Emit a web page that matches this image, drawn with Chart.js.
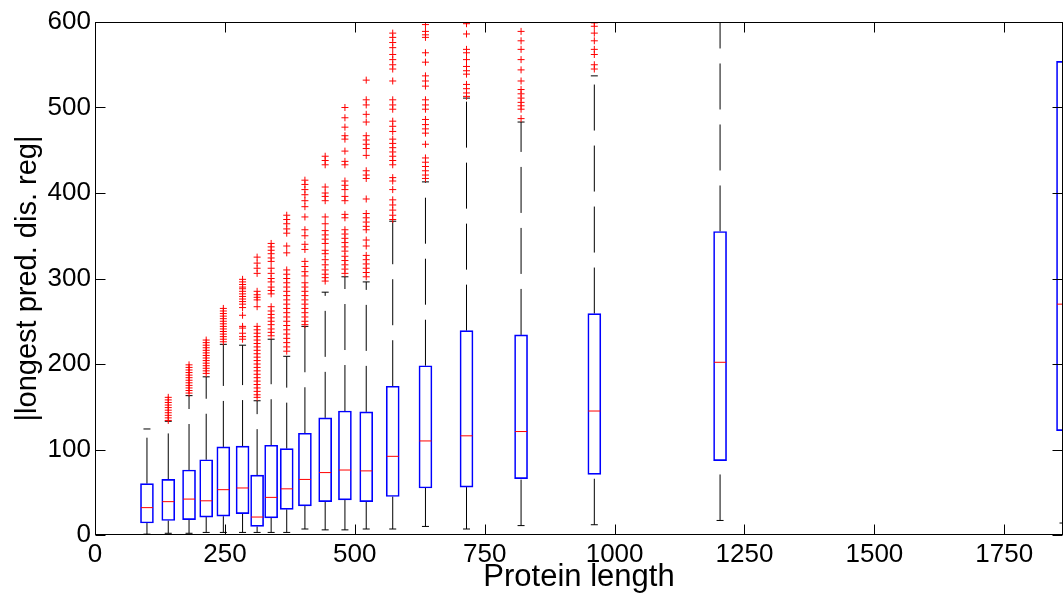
<!DOCTYPE html>
<html>
<head>
<meta charset="utf-8">
<script src="https://cdn.jsdelivr.net/npm/chart.js@4.4.1/dist/chart.umd.min.js"></script>
<style>
  html, body { margin: 0; padding: 0; background: #fff; overflow: hidden; }
  canvas { display: block; }
</style>
</head>
<body>
<canvas id="boxChart" width="1064" height="603"></canvas>
<script>
// group positions on the x axis (protein length)
const positions = [100, 141, 181, 214, 247, 284, 312, 339, 369, 404, 443, 481, 522, 573, 636, 715, 820, 961, 1203, 1863];
const lowWhisker = [1, 2, 2, 3, 3, 3, 3, 3, 3, 7, 6, 6, 7, 7, 10, 7, 11, 12, 17, 14];
const q1 = [14, 17, 18, 21, 22, 25, 10, 20, 30, 34, 39, 41, 39, 45, 55, 56, 66, 71, 87, 122];
const medians = [32, 39, 42, 40, 53, 55, 21, 44, 54, 65, 73, 76, 75, 92, 110, 116, 121, 145, 202, 270];
const q3 = [60, 65, 76, 88, 103, 104, 70, 105, 101, 119, 137, 145, 144, 174, 198, 239, 234, 259, 355, 554];
const highWhisker = [124, 133, 163, 185, 223, 222, 157, 229, 209, 244, 284, 302, 296, 367, 413, 511, 483, 537, 650, 880];

// outliers (red +) per group
const outliers = [
  [],
  [161, 158, 155, 152, 149, 146, 143, 140, 137, 134],
  [199, 196, 193, 190, 187, 184, 181, 178, 175, 172, 169, 166],
  [228, 225, 222, 219, 216, 213, 210, 207, 204, 201, 198, 195, 192, 189],
  [265, 262, 259, 256, 253, 250, 247, 244, 241, 238, 235, 232, 229, 226],
  [299, 296, 293, 290, 288, 285, 282, 279, 276, 273, 270, 266, 257, 244, 242, 236, 232, 229],
  [325, 318, 312, 306, 285, 281, 278, 275, 267, 244, 240, 236, 232, 228, 224, 220, 216, 212, 208, 204, 200, 196, 192, 188, 184, 180, 176, 172, 168, 164, 161],
  [341, 337, 333, 329, 324, 320, 312, 306, 300, 296, 290, 286, 282, 267, 262, 258, 254, 250, 246, 241, 237, 233],
  [374, 369, 364, 358, 353, 338, 330, 310, 305, 300, 295, 290, 285, 280, 275, 270, 265, 260, 255, 250, 245, 240, 235, 230, 225, 220, 215],
  [415, 410, 404, 398, 391, 384, 372, 357, 350, 340, 334, 320, 314, 308, 303, 295, 290, 285, 280, 275, 270, 265, 260, 255, 250, 246],
  [443, 438, 433, 407, 400, 396, 391, 372, 364, 356, 351, 346, 341, 333, 329, 322, 316, 310, 305, 301, 297],
  [500, 488, 477, 467, 463, 449, 437, 433, 414, 409, 404, 396, 391, 375, 371, 357, 352, 347, 342, 337, 332, 326, 321, 316, 311, 306],
  [532, 509, 503, 492, 483, 467, 462, 457, 452, 444, 426, 421, 417, 393, 376, 371, 366, 361, 357, 345, 338, 327, 322, 317, 312, 307, 302],
  [587, 582, 576, 570, 562, 556, 550, 545, 531, 509, 503, 498, 484, 478, 472, 463, 458, 453, 448, 443, 438, 433, 418, 414, 404, 392, 386, 380, 374, 369],
  [597, 589, 585, 582, 564, 553, 537, 531, 525, 509, 503, 498, 486, 480, 475, 470, 457, 441, 436, 431, 426, 421, 417],
  [598, 586, 568, 564, 556, 548, 543, 539, 527, 522, 517, 513],
  [589, 578, 568, 556, 544, 531, 521, 516, 511, 506, 502, 498, 487],
  [599, 595, 587, 578, 568, 562, 550, 545],
  [],
  []
];

const xTicks = [0, 250, 500, 750, 1000, 1250, 1500, 1750];
const yTicks = [0, 100, 200, 300, 400, 500, 600];

const fontFamily = "'Liberation Sans', Arial, sans-serif";

// whiskers go upward: low -> q1 and q3 -> high, so the dash starts at the lower end
const whiskerPts = [];
positions.forEach((x, i) => {
  whiskerPts.push({x: x, y: lowWhisker[i]}, {x: x, y: q1[i]}, {x: x, y: null});
  whiskerPts.push({x: x, y: q3[i]}, {x: x, y: highWhisker[i]}, {x: x, y: null});
});

const capPts = [];
positions.forEach((x, i) => {
  capPts.push({x: x, y: lowWhisker[i]}, {x: x, y: highWhisker[i]});
});

const outlierPts = [];
positions.forEach((x, i) => {
  outliers[i].forEach(v => outlierPts.push({x: x, y: v}));
});

// box frame + inward tick marks, matlab style
const frameLines = {
  id: 'frameLines',
  afterDatasetsDraw(chart) {
    const {ctx, chartArea: a, scales: {x, y}} = chart;
    const L = Math.round(a.left) + 0.5, R = Math.round(a.right) - 0.5;
    const T = Math.round(a.top) + 0.5, B = Math.round(a.bottom) - 0.5;
    ctx.save();
    ctx.strokeStyle = '#000';
    ctx.lineWidth = 1;
    ctx.strokeRect(L, T, R - L, B - T);
    ctx.beginPath();
    xTicks.forEach(v => {
      const px = Math.round(x.getPixelForValue(v)) + 0.5;
      ctx.moveTo(px, B); ctx.lineTo(px, B - 10);
      ctx.moveTo(px, T); ctx.lineTo(px, T + 10);
    });
    yTicks.forEach(v => {
      const py = Math.round(y.getPixelForValue(v)) + 0.5;
      ctx.moveTo(L, py); ctx.lineTo(L + 10, py);
      ctx.moveTo(R, py); ctx.lineTo(R - 10, py);
    });
    ctx.stroke();
    ctx.restore();
  }
};

const ctx = document.getElementById('boxChart').getContext('2d');
new Chart(ctx, {
  type: 'bar',
  data: {
    datasets: [
      {
        type: 'scatter',
        data: positions.map((x, i) => ({x: x, y: medians[i]})),
        pointStyle: 'line',
        pointRadius: 6,
        borderColor: '#ff0000',
        borderWidth: 1,
        order: 0
      },
      {
        type: 'scatter',
        data: outlierPts,
        pointStyle: 'cross',
        pointRadius: 3.5,
        borderColor: '#ff0000',
        borderWidth: 1,
        order: 1
      },
      {
        type: 'scatter',
        data: capPts,
        pointStyle: 'line',
        pointRadius: 3.5,
        borderColor: '#000000',
        borderWidth: 1,
        order: 2
      },
      {
        type: 'bar',
        data: positions.map((x, i) => ({x: x, y: [q1[i], q3[i]]})),
        backgroundColor: 'rgba(255,255,255,0)',
        borderColor: '#0000ff',
        borderWidth: 1,
        borderSkipped: false,
        grouped: false,
        categoryPercentage: 1,
        barPercentage: 1,
        maxBarThickness: 13,
        order: 3
      },
      {
        type: 'line',
        data: whiskerPts,
        borderColor: '#000000',
        borderWidth: 1,
        borderDash: [46, 15],
        pointRadius: 0,
        spanGaps: false,
        tension: 0,
        fill: false,
        order: 4
      }
    ]
  },
  options: {
    responsive: false,
    animation: false,
    events: [],
    layout: { autoPadding: false, padding: { top: 22, right: 1, left: 0, bottom: 0 } },
    plugins: { legend: { display: false }, tooltip: { enabled: false } },
    scales: {
      x: {
        type: 'linear',
        min: 0,
        max: 1863,
        offset: false,
        grid: { display: false, drawTicks: false },
        border: { display: false },
        ticks: {
          color: '#000', padding: 4, maxRotation: 0, autoSkip: false,
          font: { family: fontFamily, size: 26 },
          callback: v => String(v)
        },
        afterBuildTicks: s => { s.ticks = xTicks.map(v => ({value: v})); },
        afterFit: s => { s.height = 68; s.paddingLeft = 0; s.paddingRight = 0; },
        title: {
          display: true,
          text: 'Protein length',
          color: '#000',
          font: { family: fontFamily, size: 31 },
          padding: { top: 0, bottom: 7 }
        }
      },
      y: {
        min: 0,
        max: 600,
        grid: { display: false, drawTicks: false },
        border: { display: false },
        ticks: {
          color: '#000', padding: 4,
          font: { family: fontFamily, size: 26 },
          callback: v => String(v)
        },
        afterBuildTicks: s => { s.ticks = yTicks.map(v => ({value: v})); },
        afterFit: s => { s.width = 95; },
        title: {
          display: true,
          text: '|longest pred. dis. reg|',
          color: '#000',
          font: { family: fontFamily, size: 29 },
          padding: { top: 11, bottom: 0 }
        }
      }
    }
  },
  plugins: [frameLines]
});
</script>
</body>
</html>
